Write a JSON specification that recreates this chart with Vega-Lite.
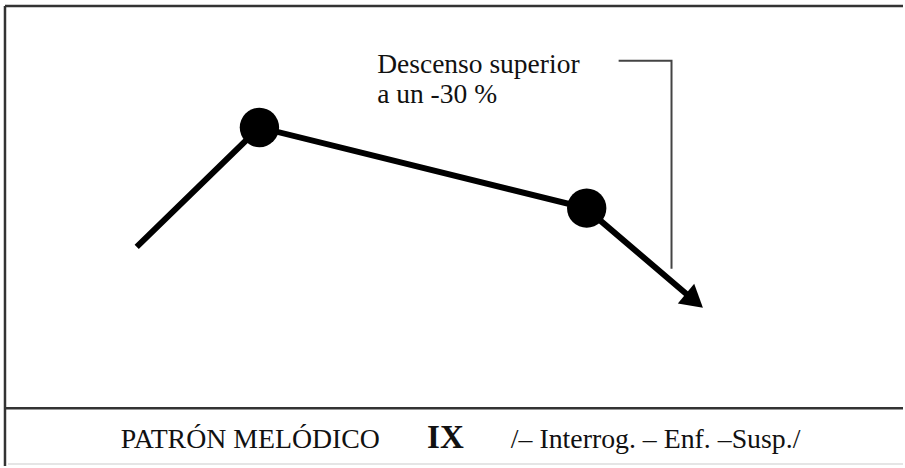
{
  "$schema": "https://vega.github.io/schema/vega-lite/v6.json",
  "width": 905,
  "height": 468,
  "autosize": {"type": "fit", "contains": "padding"},
  "padding": 0,
  "background": "white",
  "config": {"view": {"stroke": null}},
  "datasets": {
    "frame": [
      {"x": 5, "x2": 905, "y": 6, "y2": 6, "c": "#333333", "w": 2.5},
      {"x": 5, "x2": 5, "y": 6, "y2": 468, "c": "#333333", "w": 2.5},
      {"x": 5, "x2": 905, "y": 410, "y2": 410, "c": "#333333", "w": 2.5},
      {"x": 8, "x2": 905, "y": 466, "y2": 466, "c": "#dddddd", "w": 1.5}
    ],
    "bracket": [
      {"x": 620, "y": 61, "o": 1},
      {"x": 673, "y": 61, "o": 2},
      {"x": 673, "y": 270, "o": 3}
    ],
    "melody": [
      {"x": 137, "y": 248, "o": 1},
      {"x": 260, "y": 128, "o": 2},
      {"x": 587, "y": 209, "o": 3},
      {"x": 690, "y": 297, "o": 4}
    ],
    "dots": [
      {"x": 260, "y": 128},
      {"x": 588, "y": 209}
    ],
    "arrow": [
      {"x": 696, "y": 302, "a": 40}
    ],
    "note": [
      {"x": 378, "y": 73, "t": "Descenso superior"},
      {"x": 378, "y": 103, "t": "a un -30 %"}
    ],
    "caption": [
      {"x": 121, "y": 450, "t": "PATRÓN MELÓDICO"},
      {"x": 512, "y": 450, "t": "/– Interrog. – Enf. –Susp./"}
    ],
    "roman": [
      {"x": 428, "y": 450, "t": "IX"}
    ]
  },
  "layer": [
    {
      "data": {"name": "frame"},
      "mark": {"type": "rule"},
      "encoding": {
        "x": {"field": "x", "type": "quantitative", "scale": {"domain": [0, 905], "nice": false, "zero": false}, "axis": null},
        "x2": {"field": "x2"},
        "y": {"field": "y", "type": "quantitative", "scale": {"domain": [0, 468], "reverse": true, "nice": false, "zero": false}, "axis": null},
        "y2": {"field": "y2"},
        "color": {"field": "c", "type": "nominal", "scale": null, "legend": null},
        "strokeWidth": {"field": "w", "type": "quantitative", "scale": null, "legend": null}
      }
    },
    {
      "data": {"name": "bracket"},
      "mark": {"type": "line", "color": "#444444", "strokeWidth": 2, "strokeJoin": "miter"},
      "encoding": {
        "x": {"field": "x", "type": "quantitative", "axis": null},
        "y": {"field": "y", "type": "quantitative", "axis": null},
        "order": {"field": "o"}
      }
    },
    {
      "data": {"name": "melody"},
      "mark": {"type": "line", "color": "#000000", "strokeWidth": 6, "strokeCap": "butt"},
      "encoding": {
        "x": {"field": "x", "type": "quantitative", "axis": null},
        "y": {"field": "y", "type": "quantitative", "axis": null},
        "order": {"field": "o"}
      }
    },
    {
      "data": {"name": "arrow"},
      "mark": {"type": "point", "shape": "triangle-right", "filled": true, "color": "#000000", "opacity": 1, "size": 650},
      "encoding": {
        "x": {"field": "x", "type": "quantitative", "axis": null},
        "y": {"field": "y", "type": "quantitative", "axis": null},
        "angle": {"field": "a", "type": "quantitative", "scale": null}
      }
    },
    {
      "data": {"name": "dots"},
      "mark": {"type": "circle", "color": "#000000", "opacity": 1, "size": 1550},
      "encoding": {
        "x": {"field": "x", "type": "quantitative", "axis": null},
        "y": {"field": "y", "type": "quantitative", "axis": null}
      }
    },
    {
      "data": {"name": "note"},
      "mark": {"type": "text", "align": "left", "baseline": "alphabetic", "font": "'Liberation Serif', 'Times New Roman', serif", "fontSize": 27.5, "color": "#111111"},
      "encoding": {
        "x": {"field": "x", "type": "quantitative", "axis": null},
        "y": {"field": "y", "type": "quantitative", "axis": null},
        "text": {"field": "t"}
      }
    },
    {
      "data": {"name": "caption"},
      "mark": {"type": "text", "align": "left", "baseline": "alphabetic", "font": "'Liberation Serif', 'Times New Roman', serif", "fontSize": 27.8, "color": "#111111"},
      "encoding": {
        "x": {"field": "x", "type": "quantitative", "axis": null},
        "y": {"field": "y", "type": "quantitative", "axis": null},
        "text": {"field": "t"}
      }
    },
    {
      "data": {"name": "roman"},
      "mark": {"type": "text", "align": "left", "baseline": "alphabetic", "font": "'Liberation Serif', 'Times New Roman', serif", "fontSize": 33, "fontWeight": "bold", "color": "#111111"},
      "encoding": {
        "x": {"field": "x", "type": "quantitative", "axis": null},
        "y": {"field": "y", "type": "quantitative", "axis": null},
        "text": {"field": "t"}
      }
    }
  ]
}
